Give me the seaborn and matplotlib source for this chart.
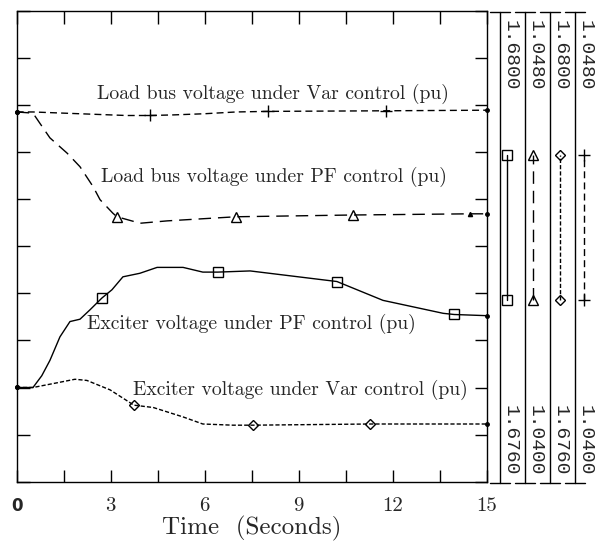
import numpy as np
import matplotlib
matplotlib.use("Agg")
import matplotlib.pyplot as plt
import seaborn as sns

# -------------------------------
# Values: time (s) and voltage (pu)
# -------------------------------
t_exc_pf = [0, 0.52, 0.80, 1.06, 1.38, 1.70, 2.02, 2.34, 2.72, 3.04, 3.39, 3.93, 4.48,
            5.31, 5.94, 6.42, 7.45, 10.22, 11.69, 13.61, 13.96, 15.0]
v_exc_pf = [1.67680, 1.67680, 1.67690, 1.67703, 1.67723, 1.67736, 1.67738, 1.67746,
            1.67756, 1.67763, 1.67774, 1.67777, 1.67782, 1.67782, 1.67778, 1.67778,
            1.67779, 1.67770, 1.67754, 1.67743, 1.67742, 1.67741]
mk_exc_pf = [8, 15, 17, 20]

t_exc_var = [0, 0.52, 1.29, 1.86, 2.24, 2.98, 3.74, 4.36, 5.31, 5.94, 6.90, 7.54, 11.28, 15.0]
v_exc_var = [1.67680, 1.67680, 1.67684, 1.67687, 1.67686, 1.67678, 1.67665, 1.67663,
             1.67655, 1.67649, 1.67648, 1.67648, 1.67649, 1.67649]
mk_exc_var = [6, 11, 12]

t_load_var = [0, 0.52, 1.5, 2.5, 3.5, 4.25, 5.0, 6.0, 7.0, 8.02, 11.79, 15.0]
v_load_var = [1.04628, 1.04628, 1.04626, 1.04624, 1.04622, 1.04622, 1.04623, 1.04625,
              1.04628, 1.04629, 1.04630, 1.04631]
mk_load_var = [5, 9, 10]

t_load_pf = [0, 0.52, 0.75, 1.06, 1.61, 2.02, 2.44, 2.66, 3.07, 3.20, 3.94, 4.80, 7.00,
             10.73, 14.47, 15.0]
v_load_pf = [1.04628, 1.04626, 1.04608, 1.04584, 1.04558, 1.04535, 1.04501, 1.04479,
             1.04456, 1.04450, 1.04439, 1.04443, 1.04450, 1.04453, 1.04455, 1.04455]
mk_load_pf = [9, 12, 13]

exc_lim = (1.6760, 1.6800)
load_lim = (1.0400, 1.0480)
x_ticks = [0, 3, 6, 9, 12, 15]

sns.set_theme(style="white")
plt.rcParams["font.family"] = ["cmr10", "DejaVu Serif"]
plt.rcParams["axes.formatter.use_mathtext"] = True

fig = plt.figure(figsize=(5.99, 5.43), dpi=100)
ax = fig.add_axes([16.7 / 599, 1 - 481.7 / 543, 470 / 599, 471 / 543])
ax2 = ax.twinx()

line_kw = dict(color="black", lw=1.0, mfc="none", mec="black", mew=1.0, errorbar=None)

sns.lineplot(x=t_exc_pf, y=v_exc_pf, ax=ax, marker="s", ms=7, markevery=mk_exc_pf,
             linestyle="-", **line_kw)
sns.lineplot(x=t_exc_var, y=v_exc_var, ax=ax, marker="D", ms=5.5, markevery=mk_exc_var,
             linestyle=(0, (3, 1.5)), **line_kw)
sns.lineplot(x=t_load_var, y=v_load_var, ax=ax2, marker="+", ms=9, markevery=mk_load_var,
             linestyle=(0, (5, 3)), **line_kw)
sns.lineplot(x=t_load_pf, y=v_load_pf, ax=ax2, marker="^", ms=7, markevery=mk_load_pf,
             linestyle=(0, (9, 5)), **line_kw)

# small end dots
for a, t, v in [(ax, t_exc_pf, v_exc_pf), (ax, t_exc_var, v_exc_var),
                (ax2, t_load_var, v_load_var), (ax2, t_load_pf, v_load_pf)]:
    a.plot([t[0], t[-1]], [v[0], v[-1]], "o", color="black", ms=2.5, clip_on=False)
ax2.plot(t_load_pf[14], v_load_pf[14], "^", color="black", ms=3)

ax.set_xlim(0, 15)
ax.set_ylim(*exc_lim)
ax2.set_ylim(*load_lim)
ax2.set_axis_off()

ax.set_xticks(x_ticks)
ax.set_xticks(np.arange(0, 15.1, 1.5), minor=True)
ax.set_xticklabels([str(v) for v in x_ticks], fontsize=15)
ax.set_yticks(np.linspace(exc_lim[0], exc_lim[1], 11))
ax.set_yticklabels([])
ax.tick_params(which="both", direction="in", length=9, width=1, top=True, right=True,
               bottom=True, left=True, color="black", pad=11)
ax.tick_params(axis="y", labelleft=False)
for s in ax.spines.values():
    s.set_color("black")
    s.set_linewidth(1.0)
lbl0 = ax.get_xticklabels()[0]
lbl0.set_fontfamily("DejaVu Sans")
lbl0.set_fontweight("bold")
lbl0.set_fontsize(12)

ax.set_xlabel("Time  (Seconds)", fontsize=18, labelpad=1)
ax.set_ylabel("")

txt_kw = dict(transform=ax.transAxes, fontsize=14.2, ha="left", va="center")
ax.text(0.170, 0.823, "Load bus voltage under Var control (pu)", **txt_kw)
ax.text(0.179, 0.647, "Load bus voltage under PF control (pu)", **txt_kw)
ax.text(0.149, 0.335, "Exciter voltage under PF control (pu)", **txt_kw)
ax.text(0.247, 0.195, "Exciter voltage under Var control (pu)", **txt_kw)

# -------------------------------
# Scale strips on the right
# -------------------------------
axs = fig.add_axes([480 / 599, 1 - 483.3 / 543, 119 / 599, 471 / 543])
axs.set_xlim(480, 599)
axs.set_ylim(0, 1)
axs.set_axis_off()

strip_lims = [exc_lim, load_lim, exc_lim, load_lim]
strip_style = [("-", "s", 7), ((0, (9, 5)), "^", 7), ((0, (3, 1.5)), "D", 5.5),
               ((0, (5, 3)), "+", 9)]
strip_x = [500, 525, 550, 575]
mark_x = [507, 533, 560, 584]
for xl, mx, lim, (ls, m, ms) in zip(strip_x, mark_x, strip_lims, strip_style):
    axs.plot([xl, xl], [0, 1], color="black", lw=1.0, clip_on=False)
    axs.plot([xl - 10, xl + 10], [1, 1], color="black", lw=1.0, clip_on=False)
    axs.plot([xl - 10, xl + 10], [0, 0], color="black", lw=1.0, clip_on=False)
    axs.text(xl + 10, 0.984, f"{lim[1]:.4f}", rotation=270, ha="center", va="top",
             family="Liberation Mono", fontsize=14)
    axs.text(xl + 10, 0.0155, f"{lim[0]:.4f}", rotation=270, ha="center", va="bottom",
             family="Liberation Mono", fontsize=14)
    axs.plot([mx, mx], [0.389, 0.697], color="black", lw=1.0, linestyle=ls, marker=m,
             ms=ms, mfc="none", mec="black", mew=1.0)

fig.savefig("out.png", dpi=100)
